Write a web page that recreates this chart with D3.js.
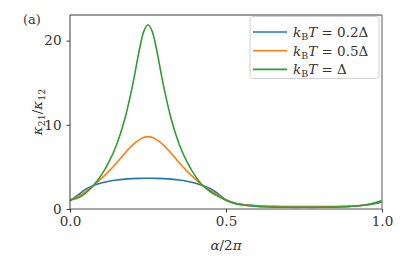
<!DOCTYPE html>
<html>
<head>
<meta charset="utf-8">
<script src="https://cdn.jsdelivr.net/npm/d3@7"></script>
<style>
  body { margin: 0; background: #fff; }
</style>
</head>
<body>
<div id="chart"></div>
<script>
const FONT = "'DejaVu Serif', 'Liberation Serif', serif";

// alpha / 2pi
const alpha = [0, 0.025, 0.05, 0.075, 0.1, 0.125, 0.15, 0.175, 0.2, 0.225, 0.2375, 0.25, 0.2625,
  0.275, 0.3, 0.325, 0.35, 0.375, 0.4, 0.425, 0.45, 0.475, 0.5, 0.525, 0.55, 0.6, 0.65, 0.7,
  0.75, 0.8, 0.85, 0.9, 0.95, 0.975, 1.0];

// kappa21 / kappa12 for each temperature
const ratioT02 = [1.0, 1.65, 2.35, 2.8, 3.1, 3.3, 3.45, 3.55, 3.61, 3.64, 3.65, 3.65, 3.65,
  3.64, 3.61, 3.55, 3.45, 3.3, 3.1, 2.8, 2.4, 1.8, 1.1, 0.75, 0.55, 0.38, 0.32, 0.3,
  0.3, 0.3, 0.3, 0.34, 0.48, 0.62, 0.85];
const ratioT05 = [1.05, 1.45, 2.05, 2.8, 3.6, 4.5, 5.5, 6.6, 7.6, 8.3, 8.52, 8.6, 8.52,
  8.3, 7.6, 6.6, 5.5, 4.5, 3.6, 2.8, 2.2, 1.6, 1.05, 0.72, 0.52, 0.33, 0.26, 0.24,
  0.24, 0.24, 0.26, 0.32, 0.5, 0.68, 0.95];
const ratioT10 = [1.05, 1.3, 1.9, 2.8, 4.0, 5.6, 7.7, 10.6, 14.6, 19.4, 21.2, 21.9, 21.2,
  19.4, 14.6, 10.6, 7.7, 5.6, 4.0, 2.8, 2.05, 1.5, 1.05, 0.7, 0.5, 0.3, 0.22, 0.2,
  0.2, 0.2, 0.22, 0.3, 0.5, 0.7, 1.0];

const series = [
  { T: "0.2", values: ratioT02, color: "#1f77b4" },
  { T: "0.5", values: ratioT05, color: "#ff7f0e" },
  { T: "", values: ratioT10, color: "#2ca02c" }
];

const xTicks = [0, 0.5, 1.0];
const yTicks = [0, 10, 20];

const width = 415, height = 258;
const margin = { left: 70, right: 33, top: 15, bottom: 49 };

const x = d3.scaleLinear().domain([0, 1]).range([margin.left, width - margin.right]);
const y = d3.scaleLinear().domain([0, 23.05]).range([height - margin.bottom, margin.top]);

const svg = d3.select("#chart").append("svg")
  .attr("width", width)
  .attr("height", height)
  .attr("font-family", FONT);

const line = d3.line()
  .x((d, i) => x(alpha[i]))
  .y(d => y(d))
  .curve(d3.curveCatmullRom.alpha(0.5));

svg.append("defs").append("clipPath").attr("id", "clip")
  .append("rect")
  .attr("x", margin.left).attr("y", margin.top)
  .attr("width", width - margin.left - margin.right)
  .attr("height", height - margin.top - margin.bottom);

svg.append("g").attr("clip-path", "url(#clip)")
  .selectAll("path.curve")
  .data(series)
  .enter()
  .append("path")
  .attr("class", "curve")
  .attr("d", s => line(s.values))
  .attr("fill", "none")
  .attr("stroke", s => s.color)
  .attr("stroke-width", 1.6);

// frame: left/top dark, bottom/right lighter as in the original rendering
const x0 = margin.left, x1 = width - margin.right, y0 = height - margin.bottom, y1 = margin.top;
svg.append("path")
  .attr("d", `M${x0},${y0}V${y1}H${x1}`)
  .attr("fill", "none").attr("stroke", "#222").attr("stroke-width", 0.9);
svg.append("path")
  .attr("d", `M${x0},${y0}H${x1}V${y1}`)
  .attr("fill", "none").attr("stroke", "#8a8a8a").attr("stroke-width", 1.4);

// axes
const xAxis = svg.append("g")
  .attr("transform", `translate(0,${height - margin.bottom})`)
  .call(d3.axisBottom(x).tickValues(xTicks).tickFormat(d3.format(".1f")).tickSizeOuter(0).tickSize(3.5).tickPadding(4));
const yAxis = svg.append("g")
  .attr("transform", `translate(${margin.left},0)`)
  .call(d3.axisLeft(y).tickValues(yTicks).tickFormat(d3.format("d")).tickSizeOuter(0).tickSize(3.5).tickPadding(5));

[xAxis, yAxis].forEach(a => {
  a.attr("font-family", FONT).attr("font-size", 13.5);
  a.select(".domain").remove();
  a.selectAll("line").attr("stroke", "#222").attr("stroke-width", 0.9);
  a.selectAll("text").attr("fill", "#333");
});

// axis labels
const xl = svg.append("text")
  .attr("x", (x(0) + x(1)) / 2)
  .attr("y", 250)
  .attr("text-anchor", "middle")
  .attr("fill", "#333")
  .attr("font-size", 13.5);
xl.append("tspan").attr("font-style", "italic").text("α");
xl.append("tspan").text("/2");
xl.append("tspan").attr("font-style", "italic").text("π");

const yl = svg.append("text")
  .attr("transform", `translate(42,${(y(0) + y(23.05)) / 2}) rotate(-90)`)
  .attr("text-anchor", "middle")
  .attr("fill", "#333")
  .attr("font-size", 13.5);
yl.append("tspan").attr("font-style", "italic").text("κ");
yl.append("tspan").attr("font-size", 9.5).attr("dy", 3).text("21");
yl.append("tspan").attr("dy", -3).text("/");
yl.append("tspan").attr("font-style", "italic").text("κ");
yl.append("tspan").attr("font-size", 9.5).attr("dy", 3).text("12");

svg.append("text")
  .attr("x", 23).attr("y", 24)
  .attr("fill", "#333")
  .attr("font-size", 13)
  .text("(a)");

// legend
const legend = svg.append("g");
legend.append("rect")
  .attr("x", 250).attr("y", 16.5)
  .attr("width", 129).attr("height", 62)
  .attr("rx", 2.5)
  .attr("fill", "#fff").attr("fill-opacity", 0.85)
  .attr("stroke", "#ccc").attr("stroke-width", 0.9);

const item = legend.selectAll("g.item")
  .data(series)
  .enter()
  .append("g")
  .attr("class", "item")
  .attr("transform", (s, i) => `translate(0,${32 + i * 18.7})`);

item.append("line")
  .attr("x1", 253).attr("x2", 287)
  .attr("stroke", s => s.color)
  .attr("stroke-width", 1.6);

const lt = item.append("text")
  .attr("x", 293).attr("y", 5)
  .attr("fill", "#333")
  .attr("font-size", 13.5);
lt.append("tspan").attr("font-style", "italic").text("k");
lt.append("tspan").attr("font-size", 9.5).attr("dy", 3).text("B");
lt.append("tspan").attr("dy", -3).attr("font-style", "italic").text("T");
lt.append("tspan").text(s => " = " + s.T + "Δ");
</script>
</body>
</html>
